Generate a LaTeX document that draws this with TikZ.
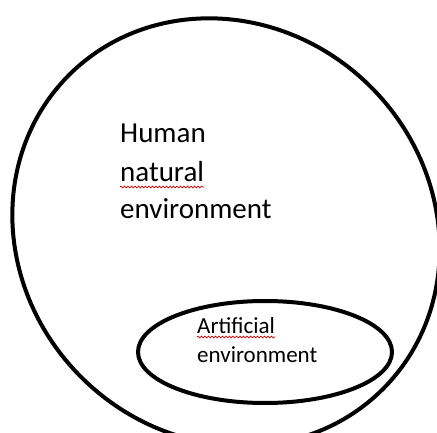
\documentclass[tikz,border=0pt]{standalone}
\usepackage{fontspec}
\setmainfont{Carlito}
\usetikzlibrary{decorations.pathmorphing,positioning}

\begin{document}
\begin{tikzpicture}[x=1pt, y=1pt,
    outline/.style={draw, line width=4pt},
    bigtext/.style={inner sep=0pt, anchor=base west, font=\fontsize{29}{35}\selectfont},
    smalltext/.style={inner sep=0pt, anchor=base west, font=\fontsize{23}{28}\selectfont},
    squiggle/.style={draw=red!85!black, line width=0.7pt, decorate,
      decoration={snake, amplitude=0.9pt, segment length=3.5pt}}]
  \clip (0,0) rectangle (437,432);
  % outer ring, slightly tilted, and the small ellipse inside it
  \draw [outline, rotate around={-45:(226,200)}] (226,200) ellipse [x radius=222pt, y radius=205pt];
  \draw [outline] (265,80) ellipse [x radius=127pt, y radius=51pt];
  % labels
  \node [bigtext] (human) at (120,289) {Human};
  \node [bigtext] (natural) at (120,250) {natural};
  \node [bigtext] (envbig) at (120,214) {environment};
  \node [smalltext] (artificial) at (197,99) {Artificial};
  \node [smalltext] (envsmall) at (197,70) {environment};
  % spell check marks
  \draw [squiggle] ([yshift=-5pt]natural.base west) -- ([yshift=-5pt]natural.base east);
  \draw [squiggle] ([yshift=-4pt]artificial.base west) -- ([yshift=-4pt]artificial.base east);
\end{tikzpicture}
\end{document}
